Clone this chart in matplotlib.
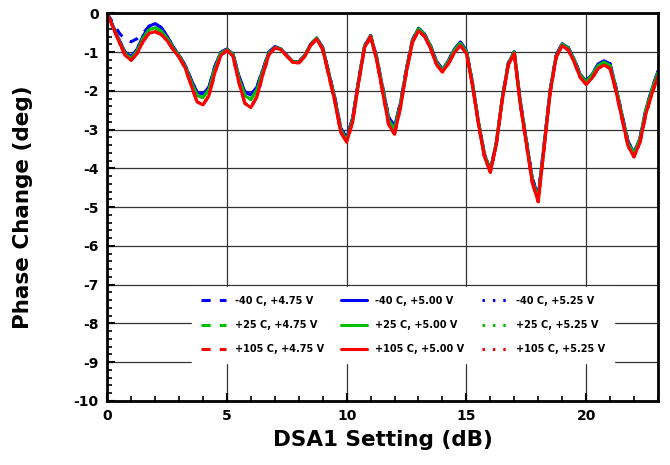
import matplotlib
matplotlib.use('Agg')
import matplotlib.pyplot as plt
from matplotlib.ticker import MultipleLocator

# DSA1 setting, 0.25 dB steps
dsa = [i * 0.25 for i in range(93)]

# -40 C, +5.00 V
m40_500 = [0.00, -0.33, -0.68, -1.00, -1.11, -0.92, -0.58, -0.33, -0.26, -0.36, -0.58, -0.86,
           -1.08, -1.33, -1.70, -2.03, -2.08, -1.90, -1.36, -1.00, -0.92, -1.04, -1.62, -2.02,
           -2.10, -1.90, -1.45, -1.00, -0.86, -0.91, -1.08, -1.24, -1.25, -1.08, -0.79, -0.63,
           -0.88, -1.52, -2.16, -2.95, -3.22, -2.70, -1.72, -0.83, -0.57, -1.12, -1.90, -2.67,
           -2.92, -2.30, -1.42, -0.68, -0.38, -0.53, -0.83, -1.23, -1.45, -1.22, -0.92, -0.74,
           -0.95, -1.78, -2.78, -3.62, -4.05, -3.33, -2.18, -1.28, -0.99, -2.26, -3.26, -4.25,
           -4.72, -3.36, -1.97, -1.08, -0.78, -0.88, -1.18, -1.57, -1.75, -1.57, -1.31, -1.22,
           -1.30, -1.92, -2.62, -3.30, -3.60, -3.22, -2.47, -1.95, -1.49]

# +25 C, +5.00 V
p25_500 = [0.00, -0.35, -0.71, -1.04, -1.16, -0.97, -0.64, -0.42, -0.37, -0.45, -0.64, -0.89,
           -1.10, -1.36, -1.76, -2.12, -2.17, -1.97, -1.42, -1.03, -0.93, -1.06, -1.68, -2.12,
           -2.22, -1.98, -1.50, -1.03, -0.88, -0.92, -1.09, -1.25, -1.26, -1.09, -0.80, -0.64,
           -0.90, -1.55, -2.20, -3.00, -3.27, -2.75, -1.75, -0.85, -0.58, -1.15, -1.95, -2.75,
           -3.00, -2.35, -1.45, -0.70, -0.40, -0.55, -0.85, -1.27, -1.47, -1.25, -0.95, -0.77,
           -0.98, -1.80, -2.80, -3.65, -4.07, -3.35, -2.20, -1.30, -1.00, -2.30, -3.30, -4.30,
           -4.79, -3.40, -2.00, -1.10, -0.80, -0.90, -1.20, -1.60, -1.77, -1.60, -1.35, -1.26,
           -1.35, -1.95, -2.65, -3.35, -3.63, -3.25, -2.50, -1.98, -1.53]

# +105 C, +5.00 V
p105_500 = [0.00, -0.37, -0.74, -1.08, -1.21, -1.03, -0.72, -0.51, -0.47, -0.54, -0.70, -0.93,
            -1.13, -1.40, -1.84, -2.28, -2.36, -2.12, -1.52, -1.08, -0.95, -1.10, -1.78, -2.32,
            -2.43, -2.15, -1.58, -1.07, -0.89, -0.93, -1.10, -1.26, -1.28, -1.11, -0.82, -0.66,
            -0.93, -1.59, -2.25, -3.06, -3.32, -2.80, -1.78, -0.88, -0.60, -1.19, -2.02, -2.86,
            -3.12, -2.42, -1.50, -0.74, -0.45, -0.59, -0.90, -1.32, -1.51, -1.30, -1.01, -0.83,
            -1.03, -1.84, -2.84, -3.69, -4.10, -3.38, -2.23, -1.33, -1.03, -2.34, -3.35, -4.36,
            -4.86, -3.45, -2.04, -1.13, -0.83, -0.94, -1.25, -1.65, -1.83, -1.67, -1.42, -1.33,
            -1.42, -2.01, -2.72, -3.42, -3.70, -3.33, -2.59, -2.07, -1.62]

# -40 C, +4.75 V differs only below 2 dB
m40_475 = [0.00, -0.25, -0.50, -0.68, -0.73, -0.65, -0.50, -0.33] + m40_500[8:]
m40_525 = m40_500
p25_475 = p25_500
p25_525 = p25_500
p105_475 = p105_500
p105_525 = p105_500

dash = (0, (3, 3))
dot = (0, (0.8, 2.6))
series = [
    ('-40 C, +4.75 V', m40_475, 'blue', dash),
    ('-40 C, +5.00 V', m40_500, 'blue', '-'),
    ('-40 C, +5.25 V', m40_525, 'blue', dot),
    ('+25 C, +4.75 V', p25_475, '#00c000', dash),
    ('+25 C, +5.00 V', p25_500, '#00c000', '-'),
    ('+25 C, +5.25 V', p25_525, '#00c000', dot),
    ('+105 C, +4.75 V', p105_475, 'red', dash),
    ('+105 C, +5.00 V', p105_500, 'red', '-'),
    ('+105 C, +5.25 V', p105_525, 'red', dot),
]

plt.rcParams['font.family'] = 'DejaVu Sans'
plt.rcParams['font.weight'] = 'bold'
plt.rcParams['axes.unicode_minus'] = False

fig = plt.figure(figsize=(6.7, 4.65), dpi=100)
ax = fig.add_axes([0.16, 0.138, 0.822, 0.833])

handles = []
for label, vals, col, ls in series:
    h, = ax.plot(dsa, vals, color=col, linestyle=ls, linewidth=2.2, label=label,
                 solid_joinstyle='round', solid_capstyle='round')
    handles.append(h)

ax.set_xlim(0, 23)
ax.set_ylim(-10, 0)
ax.xaxis.set_major_locator(MultipleLocator(5))
ax.xaxis.set_minor_locator(MultipleLocator(1))
ax.yaxis.set_major_locator(MultipleLocator(1))
ax.yaxis.set_minor_locator(MultipleLocator(0.2))
ax.grid(True, which='major', color='#333333', linewidth=0.9)
ax.set_axisbelow(True)
ax.tick_params(which='major', direction='in', length=6, width=1.5, labelsize=10, pad=6)
ax.tick_params(which='minor', direction='in', length=3.5, width=1.2)
ax.tick_params(top=False, right=False)
for sp in ax.spines.values():
    sp.set_linewidth(2)

ax.set_xlabel('DSA1 Setting (dB)', fontsize=15.5, fontweight='bold', labelpad=5)
ax.set_ylabel('Phase Change (deg)', fontsize=15.5, fontweight='bold', labelpad=29)

# legend fills column-wise, so order by voltage to get temperature rows
order = [0, 3, 6, 1, 4, 7, 2, 5, 8]
leg = ax.legend([handles[i] for i in order], [series[i][0] for i in order],
                ncol=3, loc='center', bbox_to_anchor=(0.537, 0.196), frameon=True,
                fontsize=7, handlelength=2.6, columnspacing=1.8, labelspacing=1.45,
                borderpad=0.9, handletextpad=0.9)
leg.get_frame().set_edgecolor('white')
leg.get_frame().set_facecolor('white')
leg.get_frame().set_alpha(1)
leg.get_frame().set_boxstyle('square', pad=0)
for t in leg.get_texts():
    t.set_fontweight('bold')

fig.savefig('out.png', dpi=100)
